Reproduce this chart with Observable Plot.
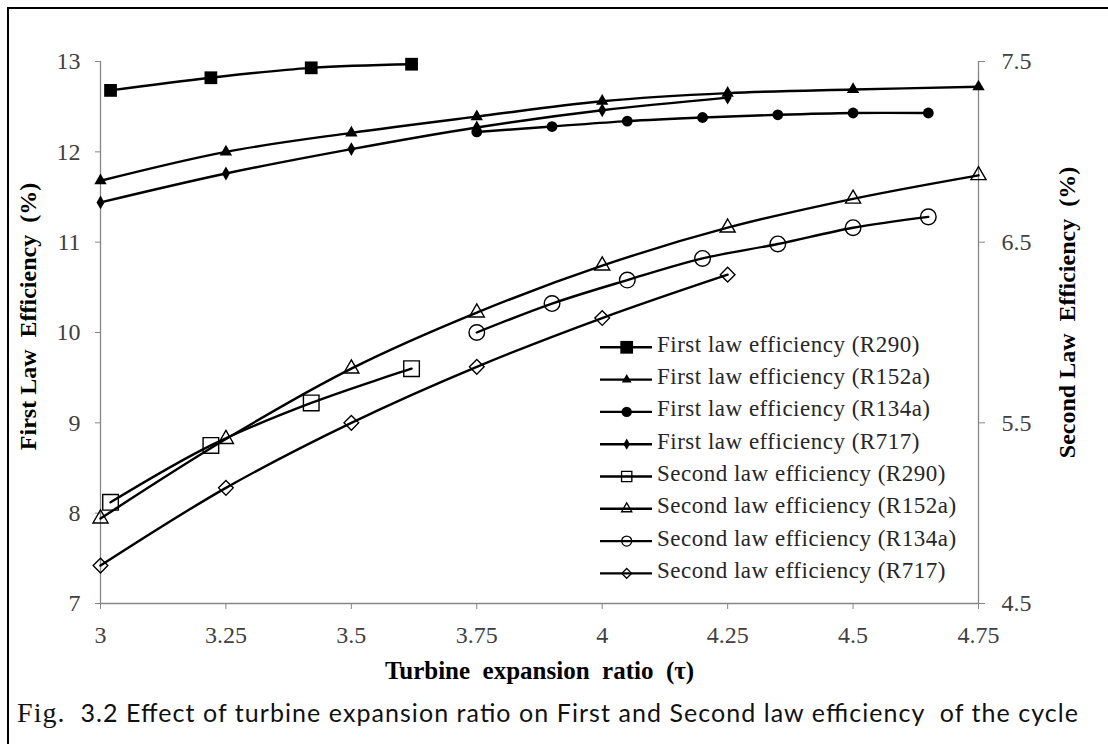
<!DOCTYPE html>
<html>
<head>
<meta charset="utf-8">
<script src="https://cdn.jsdelivr.net/npm/d3@7"></script>
<script src="https://cdn.jsdelivr.net/npm/@observablehq/plot@0.6"></script>
<style>
  body { margin: 0; background: #fff; }
  #fig { position: relative; width: 1108px; height: 744px; overflow: hidden; background: #fff; }
  #frame { position: absolute; left: 7px; top: 7px; width: 1200px; height: 800px;
           border-left: 2px solid #000; border-top: 2px solid #000; pointer-events: none; }
  #chart { position: absolute; left: 0; top: 0; }
  #caption { position: absolute; left: 0; top: 690px; }
</style>
</head>
<body>
<div id="fig">
  <div id="chart"></div>
  <svg id="caption" width="1108" height="54"></svg>
  <div id="frame"></div>
</div>
<script>
// Turbine expansion ratio (τ) for each refrigerant
const xR290  = [3.02, 3.22, 3.42, 3.62];
const xR152a = [3, 3.25, 3.5, 3.75, 4, 4.25, 4.5, 4.75];
const xR134a = [3.75, 3.9, 4.05, 4.2, 4.35, 4.5, 4.65];
const xR717  = [3, 3.25, 3.5, 3.75, 4, 4.25];

// First law efficiency (%) – left axis
const firstR290  = [12.68, 12.82, 12.93, 12.97];
const firstR152a = [11.68, 12.0, 12.21, 12.39, 12.56, 12.65, 12.69, 12.72];
const firstR134a = [12.22, 12.28, 12.34, 12.38, 12.41, 12.43, 12.43];
const firstR717  = [11.44, 11.76, 12.03, 12.27, 12.46, 12.6];

// Second law efficiency (%) – right axis
const secondR290  = [5.06, 5.375, 5.61, 5.8];
const secondR152a = [4.97, 5.41, 5.8, 6.11, 6.37, 6.58, 6.74, 6.87];
const secondR134a = [6.0, 6.16, 6.29, 6.41, 6.49, 6.58, 6.64];
const secondR717  = [4.71, 5.14, 5.5, 5.81, 6.08, 6.32];

// Axis ticks
const xTicks = [3, 3.25, 3.5, 3.75, 4, 4.25, 4.5, 4.75];
const leftTicks = [7, 8, 9, 10, 11, 12, 13];
const rightTicks = [4.5, 5.5, 6.5, 7.5];

const seriesNames = [
  "First law efficiency (R290)",
  "First law efficiency (R152a)",
  "First law efficiency (R134a)",
  "First law efficiency (R717)",
  "Second law efficiency (R290)",
  "Second law efficiency (R152a)",
  "Second law efficiency (R134a)",
  "Second law efficiency (R717)"
];

// The right axis (4.5–7.5) shares the frame with the left axis (7–13)
const rightToLeft = v => 7 + (v - 4.5) * 2;
const leftToRight = v => (v - 7) / 2 + 4.5;

const series = [
  {name: seriesNames[0], x: xR290,  v: firstR290,  side: "left",  symbol: "square",   filled: true,  r: 7.2, lr: 7.2},
  {name: seriesNames[1], x: xR152a, v: firstR152a, side: "left",  symbol: "triangle", filled: true,  r: 4.6, lr: 3.6},
  {name: seriesNames[2], x: xR134a, v: firstR134a, side: "left",  symbol: "circle",   filled: true,  r: 5.4, lr: 5.2},
  {name: seriesNames[3], x: xR717,  v: firstR717,  side: "left",  symbol: "diamond",  filled: true,  r: 4.2, lr: 3.4},
  {name: seriesNames[4], x: xR290,  v: secondR290, side: "right", symbol: "square",   filled: false, r: 8.8, lr: 5.8},
  {name: seriesNames[5], x: xR152a, v: secondR152a,side: "right", symbol: "triangle", filled: false, r: 5.6, lr: 3.8},
  {name: seriesNames[6], x: xR134a, v: secondR134a,side: "right", symbol: "circle",   filled: false, r: 7.8, lr: 5.0},
  {name: seriesNames[7], x: xR717,  v: secondR717, side: "right", symbol: "diamond2", filled: false, r: 6.6, lr: 4.4}
];

const tables = series.map(s => s.x.map((x, i) => ({
  x,
  y: s.side === "left" ? s.v[i] : rightToLeft(s.v[i])
})));

const serif = "'Liberation Serif', 'Times New Roman', serif";
const axisGray = "#868686";
const labelGray = "#404040";

const seriesMarks = series.flatMap((s, k) => [
  Plot.line(tables[k], {x: "x", y: "y", curve: "catmull-rom", stroke: "#000", strokeWidth: 2.4}),
  Plot.dot(tables[k], {
    x: "x", y: "y", symbol: () => s.symbol, r: s.r,
    fill: s.filled ? "#000" : "none",
    stroke: "#000", strokeWidth: s.filled ? 0 : 1.4
  })
]);

const chart = Plot.plot({
  width: 1108,
  height: 690,
  marginLeft: 100,
  marginRight: 130,
  marginTop: 61,
  marginBottom: 87,
  style: {fontFamily: serif, fontSize: "24px", background: "#fff", color: "#000"},
  x: {domain: [3, 4.75]},
  y: {domain: [7, 13]},
  symbol: {type: "identity"},
  marks: [
    // axis lines
    Plot.ruleX([3], {stroke: axisGray, strokeWidth: 1.3}),
    Plot.ruleX([4.75], {stroke: axisGray, strokeWidth: 1.3}),
    Plot.ruleY([7], {stroke: axisGray, strokeWidth: 1.3}),
    Plot.axisX({
      ticks: xTicks, tickSize: 6, tickPadding: 16, label: null,
      tickFormat: d => String(d), stroke: axisGray, fill: labelGray, fontSize: 24
    }),
    Plot.axisY({
      anchor: "left", ticks: leftTicks, tickSize: 5, tickPadding: 15, label: null,
      tickFormat: d => String(d), stroke: axisGray, fill: labelGray, fontSize: 24
    }),
    Plot.axisY({
      anchor: "right", ticks: rightTicks.map(rightToLeft), tickSize: 6, tickPadding: 17, label: null,
      tickFormat: d => String(leftToRight(d)), stroke: axisGray, fill: labelGray, fontSize: 24
    }),
    ...seriesMarks,
    // axis titles
    Plot.text(["First Law\u00a0 Efficiency\u00a0 (%)"], {
      text: d => d, frameAnchor: "left", rotate: -90, dx: -72, dy: -16,
      textAnchor: "middle", lineAnchor: "middle",
      fontWeight: "bold", fontSize: 24, fill: "#000"
    }),
    Plot.text(["Second Law\u00a0 Efficiency\u00a0 (%)"], {
      text: d => d, frameAnchor: "right", rotate: -90, dx: 89, dy: -20,
      textAnchor: "middle", lineAnchor: "middle",
      fontWeight: "bold", fontSize: 24, fill: "#000"
    }),
    Plot.text(["Turbine\u00a0 expansion\u00a0 ratio\u00a0 (τ)"], {
      text: d => d, frameAnchor: "bottom", dy: 67,
      textAnchor: "middle", lineAnchor: "middle",
      fontWeight: "bold", fontSize: 25, fill: "#000"
    })
  ]
});

// Legend in the lower right of the plotting area
const symbolTypes = {
  square: d3.symbolSquare, triangle: d3.symbolTriangle, circle: d3.symbolCircle,
  diamond: d3.symbolDiamond, diamond2: d3.symbolDiamond2
};
const legend = d3.select(chart).append("g")
  .attr("font-family", serif).attr("font-size", 23).attr("fill", "#262626")
  .attr("text-anchor", "start");
series.forEach((s, i) => {
  const yy = 347.3 + i * 32.3;
  legend.append("line")
    .attr("x1", 600).attr("x2", 652).attr("y1", yy).attr("y2", yy)
    .attr("stroke", "#000").attr("stroke-width", 2.4);
  legend.append("path")
    .attr("d", d3.symbol(symbolTypes[s.symbol], Math.PI * s.lr * s.lr)())
    .attr("transform", `translate(626.7,${yy})`)
    .attr("fill", s.filled ? "#000" : "none")
    .attr("stroke", "#000").attr("stroke-width", s.filled ? 0 : 1.3);
  legend.append("text")
    .attr("x", 657).attr("y", yy + 4.5)
    .attr("text-anchor", "start")
    .attr("letter-spacing", 0.5)
    .text(s.name);
});

document.getElementById("chart").appendChild(chart);

// Figure caption
const cap = d3.select("#caption").append("text")
  .attr("x", 17).attr("y", 31.7)
  .attr("fill", "#111")
  .attr("textLength", 1061).attr("lengthAdjust", "spacing")
  .style("white-space", "pre");
cap.append("tspan").attr("font-family", "'Liberation Serif', serif").attr("font-size", 28).text("Fig.");
cap.append("tspan").attr("font-family", "Lato, 'Open Sans', sans-serif").attr("font-size", 25)
  .text("  3.2 Effect of turbine expansion ratio on First and Second law efficiency  of the cycle");
</script>
</body>
</html>
